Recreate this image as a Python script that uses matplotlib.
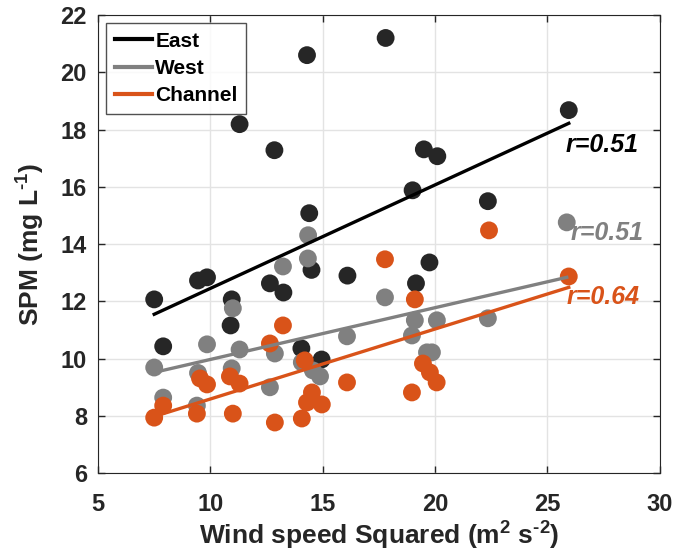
import numpy as np
import matplotlib
matplotlib.use("Agg")
import matplotlib.pyplot as plt

plt.rcParams['font.family'] = ['Liberation Sans', 'DejaVu Sans']
plt.rcParams['font.weight'] = 'bold'
plt.rcParams['mathtext.fontset'] = 'custom'
plt.rcParams['mathtext.rm'] = 'Liberation Sans:bold'
plt.rcParams['mathtext.bf'] = 'Liberation Sans:bold'
plt.rcParams['mathtext.it'] = 'Liberation Sans:bold:italic'
plt.rcParams['mathtext.default'] = 'bf'

# wind speed squared (m2 s-2) and SPM (mg/L) for each site
east_x = [7.5, 7.9, 9.45, 9.85, 10.95, 10.9, 11.3, 12.65, 12.85, 13.25, 14.3, 14.4,
          14.5, 14.05, 14.95, 16.1, 17.8, 19.0, 19.5, 20.1, 19.15, 19.75, 22.35, 25.95]
east_y = [12.07, 10.43, 12.73, 12.84, 12.07, 11.16, 18.19, 12.63, 17.28, 12.31, 20.6, 15.08,
          13.1, 10.36, 9.97, 12.9, 21.2, 15.88, 17.31, 17.07, 12.63, 13.36, 15.5, 18.68]

west_x = [7.5, 7.9, 9.4, 9.45, 9.85, 11.0, 10.95, 11.3, 12.65, 12.87, 13.23, 14.34, 14.35,
          14.07, 14.56, 14.88, 16.08, 17.77, 19.1, 20.08, 18.97, 19.64, 19.86, 22.35, 25.86]
west_y = [9.69, 8.64, 8.36, 9.5, 10.5, 11.76, 9.66, 10.32, 9.0, 10.18, 13.22, 13.5, 14.31,
          9.87, 9.59, 9.38, 10.78, 12.14, 11.34, 11.34, 10.81, 10.22, 10.22, 11.41, 14.76]

chan_x = [7.5, 7.9, 9.4, 9.54, 9.85, 10.87, 11.0, 11.3, 12.65, 12.87, 13.23, 14.07, 14.2,
          14.52, 14.3, 14.96, 16.08, 17.77, 19.1, 19.46, 19.77, 20.07, 18.97, 22.4, 25.95]
chan_y = [7.94, 8.36, 8.08, 9.31, 9.1, 9.38, 8.08, 9.13, 10.53, 7.77, 11.16, 7.91, 9.94,
          8.82, 8.47, 8.4, 9.17, 13.47, 12.07, 9.83, 9.52, 9.17, 8.82, 14.48, 12.87]

# fitted line values at the smallest and largest wind speed of each site
east_fit = [11.55, 18.22]
west_fit = [9.52, 12.84]
chan_fit = [7.98, 12.49]

names = ['East', 'West', 'Channel']
r_labels = ['r=0.51', 'r=0.51', 'r=0.64']
r_pos_x = [25.8, 26.05, 25.85]
r_pos_y = [17.45, 14.4, 12.17]
dot_colors = ['#262626', '#808080', '#D95319']
line_colors = ['#000000', '#808080', '#D95319']

xs = [east_x, west_x, chan_x]
ys = [east_y, west_y, chan_y]
fits = [east_fit, west_fit, chan_fit]

fig = plt.figure(figsize=(6.76, 5.58), dpi=100)
ax = fig.add_axes([0.145, 0.152, 0.831, 0.821])

for i in range(3):
        ax.scatter(xs[i], ys[i], s=165, color=dot_colors[i], edgecolors='none', zorder=3)

lines = []
for i in range(3):
        xx = [min(xs[i]), max(xs[i])]
        ln, = ax.plot(xx, fits[i], color=line_colors[i], linewidth=2.4, zorder=4, label=names[i])
        lines.append(ln)
        ax.text(r_pos_x[i], r_pos_y[i], r_labels[i], color=line_colors[i], fontsize=18,
                fontweight='bold', fontstyle='italic', ha='left', va='center', zorder=5)

ax.set_xlim(5, 30)
ax.set_ylim(6, 22)
ax.set_xticks([5, 10, 15, 20, 25, 30])
ax.set_yticks([6, 8, 10, 12, 14, 16, 18, 20, 22])

ax.grid(True, color='#e3e3e3', linewidth=1)
ax.set_axisbelow(True)
ax.tick_params(direction='in', length=5, top=True, right=True, labelsize=17,
               colors='#262626', width=1)
ax.tick_params(axis='x', pad=14)
ax.tick_params(axis='y', pad=8)
for sp in ax.spines.values():
        sp.set_color('#262626')

ax.set_xlabel(r'Wind speed Squared (m$^{2}$ s$^{\text{-}2}$)', fontsize=19,
              fontweight='bold', color='#262626', labelpad=3)
ax.set_ylabel(r'SPM (mg L$^{\text{-}1}$)', fontsize=19, fontweight='bold', color='#262626',
              labelpad=10)

leg = ax.legend(handles=lines, loc='upper left', fontsize=15, handlelength=1.8,
                handletextpad=0.15, borderpad=0.4, labelspacing=0.4, fancybox=False,
                edgecolor='#262626', borderaxespad=0.4)
leg.get_frame().set_linewidth(1)
for ln in leg.get_lines():
        ln.set_linewidth(3)

fig.savefig('out.png', dpi=100)
